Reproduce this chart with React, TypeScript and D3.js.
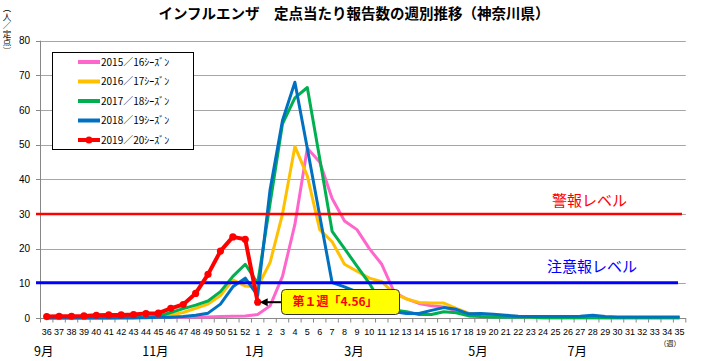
import { useMemo } from 'react'
import * as d3 from 'd3'

const WIDTH = 702
const HEIGHT = 361

// week labels: 36..52 then 1..35
const WEEKS = [
  '36', '37', '38', '39', '40', '41', '42', '43', '44', '45', '46', '47', '48', '49', '50', '51', '52',
  '1', '2', '3', '4', '5', '6', '7', '8', '9', '10', '11', '12', '13', '14', '15', '16', '17', '18',
  '19', '20', '21', '22', '23', '24', '25', '26', '27', '28', '29', '30', '31', '32', '33', '34', '35'
]

// 2015/16
const S1516 = [
  0.1, 0.1, 0.1, 0.1, 0.1, 0.1, 0.1, 0.1, 0.2, 0.2, 0.2, 0.2, 0.3, 0.3, 0.4, 0.5, 0.6,
  1.0, 3.5, 12, 27, 49, 45, 34.5, 28, 25.5, 20, 15.5, 7.5, 5.5, 4.2, 3.5, 3.2, 2.0, 1.1,
  0.6, 0.4, 0.3, 0.2, 0.2, 0.1, 0.1, 0.1, 0.1, 0.1, 0.1, 0.1, 0.1, 0.1, 0.1, 0.1, 0.1
]
// 2016/17
const S1617 = [
  0, 0, 0, 0, 0, 0, 0.1, 0.1, 0.2, 0.4, 0.9, 1.6, 2.8, 4, 6.5, 11, 9.2,
  9.0, 16, 30, 49.5, 41, 25.5, 22, 15.5, 13.5, 11.5, 10.5, 7, 5.5, 4.5, 4.3, 4.3, 2.8, 1.4,
  1.0, 0.8, 0.6, 0.4, 0.3, 0.2, 0.2, 0.2, 0.2, 0.2, 0.1, 0.1, 0.1, 0.1, 0.1, 0.1, 0.1
]
// 2017/18
const S1718 = [
  0, 0, 0, 0, 0, 0, 0.1, 0.1, 0.2, 0.5, 1.6, 2.7, 3.7, 4.9, 7.6, 12, 15.5,
  10, 33, 56, 63.5, 66.5, 46, 25, 20, 15, 10, 4, 2.3, 1.8, 1.0, 1.0, 1.8, 1.5, 0.6,
  0.4, 0.3, 0.2, 0.2, 0.2, 0.1, 0.1, 0.1, 0.1, 0.1, 0.1, 0.1, 0.1, 0.1, 0.1, 0.1, 0.1
]
// 2018/19
const S1819 = [
  0.1, 0.1, 0.1, 0.1, 0.1, 0.1, 0.1, 0.1, 0.1, 0.2, 0.2, 0.4, 0.8, 1.4, 4, 9, 11.5,
  6.5, 37, 57, 68, 49, 29.5, 10.2, 9, 7.5, 5, 3, 1.8, 1.3, 1.3, 2.2, 3, 2.5, 1.2,
  1.3, 1.1, 0.8, 0.5, 0.4, 0.4, 0.4, 0.4, 0.5, 0.8, 0.4, 0.3, 0.3, 0.3, 0.3, 0.3, 0.3
]
// 2019/20 (week 36 .. week 1)
const S1920 = [
  0.4, 0.5, 0.5, 0.6, 0.8, 0.9, 0.9, 1.0, 1.3, 1.4, 2.8, 3.9, 7.1, 12.6, 19.3, 23.4, 22.7, 4.56
]

const SEASON_NAMES = ['2015／16ｼｰｽﾞﾝ', '2016／17ｼｰｽﾞﾝ', '2017／18ｼｰｽﾞﾝ', '2018／19ｼｰｽﾞﾝ', '2019／20ｼｰｽﾞﾝ']
const SEASON_COLORS = ['#ff66cc', '#ffc000', '#00b050', '#0070c0', '#ff0000']
const SEASON_VALUES = [S1516, S1617, S1718, S1819, S1920]

const Y_TICKS = [0, 10, 20, 30, 40, 50, 60, 70, 80]
const MONTHS = ['9月', '11月', '1月', '3月', '5月', '7月']
const MONTH_WEEKS = ['36', '45', '1', '9', '19', '27']

const WARNING_LEVEL = 30
const ATTENTION_LEVEL = 10

const JP = '"Noto Sans CJK JP", sans-serif'
const NUM = '"Liberation Sans", Arial, sans-serif'

export default function App() {
  const x = useMemo(() => d3.scaleBand<string>().domain(WEEKS).range([40.5, 685.8]).padding(0), [])
  const y = useMemo(() => d3.scaleLinear().domain([0, 80]).range([318, 40.7]), [])
  const cx = (w: string) => (x(w) ?? 0) + x.bandwidth() / 2

  const line = d3.line<number>()
    .x((_, i) => cx(WEEKS[i]))
    .y(d => y(d))

  const last = S1920.length - 1
  const pointX = cx(WEEKS[last])
  const pointY = y(S1920[last])

  return (
    <svg width={WIDTH} height={HEIGHT} style={{ position: 'absolute', left: 0, top: 0, background: '#fff' }}>
      <rect width={WIDTH} height={HEIGHT} fill="#fff" />

      {/* title */}
      <text x={354} y={19} textAnchor="middle" fontFamily={JP} fontWeight="bold" fontSize={14.5}>
        インフルエンザ　定点当たり報告数の週別推移（神奈川県）
      </text>
      <text x={7} y={4} fontFamily={JP} fontSize={8.5} style={{ writingMode: 'vertical-rl' }}>（人／定点）</text>

      {/* gridlines */}
      {Y_TICKS.filter(t => t > 0).map(t => (
        <line key={t} x1={40.5} x2={685.8} y1={Math.round(y(t)) + 0.5} y2={Math.round(y(t)) + 0.5} stroke="#a6a6a6" />
      ))}

      {/* axes */}
      <line x1={40.5} x2={40.5} y1={y(80)} y2={318} stroke="#888" />
      <line x1={40.5} x2={685.8} y1={318.5} y2={318.5} stroke="#888" />
      {Y_TICKS.map(t => (
        <g key={t}>
          <line x1={36} x2={40.5} y1={Math.round(y(t)) + 0.5} y2={Math.round(y(t)) + 0.5} stroke="#888" />
          <text x={30} y={y(t) + 3.5} textAnchor="end" fontFamily={NUM} fontSize={10}>{t}</text>
        </g>
      ))}
      {WEEKS.map(w => (
        <line key={w} x1={x(w)} x2={x(w)} y1={318} y2={322.5} stroke="#888" />
      ))}
      <line x1={685.8} x2={685.8} y1={318} y2={322.5} stroke="#888" />
      {WEEKS.map(w => (
        <text key={w} x={cx(w)} y={335} textAnchor="middle" fontFamily={NUM} fontSize={9}>{w}</text>
      ))}
      {MONTHS.map((m, i) => (
        <text key={m} x={cx(MONTH_WEEKS[i]) - 3} y={356} textAnchor="middle" fontFamily={JP} fontSize={12.5}>{m}</text>
      ))}
      <text x={670} y={346} textAnchor="middle" fontFamily={JP} fontSize={7}>（週）</text>

      {/* past seasons */}
      {SEASON_VALUES.slice(0, 4).map((vals, i) => (
        <path key={i} d={line(vals) ?? ''} fill="none" stroke={SEASON_COLORS[i]} strokeWidth={3} strokeLinejoin="round" />
      ))}

      {/* levels */}
      <line x1={36} x2={682} y1={y(WARNING_LEVEL)} y2={y(WARNING_LEVEL)} stroke="#ff0000" strokeWidth={2.5} />
      <line x1={36} x2={678} y1={y(ATTENTION_LEVEL) - 0.5} y2={y(ATTENTION_LEVEL) - 0.5} stroke="#0000ff" strokeWidth={3} />
      <text x={552} y={206} fontFamily={JP} fontSize={15} fill="#ff0000">警報レベル</text>
      <text x={547} y={272} fontFamily={JP} fontSize={15} fill="#0000ff">注意報レベル</text>

      {/* current season */}
      <path d={line(S1920) ?? ''} fill="none" stroke="#ff0000" strokeWidth={4} strokeLinejoin="round" />
      {S1920.map((v, i) => (
        <circle key={i} cx={cx(WEEKS[i])} cy={y(v)} r={3.6} fill="#ff0000" />
      ))}

      {/* annotation */}
      <line x1={282} x2={pointX + 8} y1={pointY} y2={pointY} stroke="#000" strokeWidth={2} />
      <path d={`M${pointX + 2},${pointY} L${pointX + 10},${pointY - 4} L${pointX + 10},${pointY + 4} Z`} fill="#000" />
      <rect x={281.5} y={289.5} width={118} height={25} rx={4} fill="#ffff00" stroke="#333" />
      <text x={335} y={306} textAnchor="middle" fontFamily={JP} fontWeight="bold" fontSize={12} fill="#ff0000">
        第１週「4.56」
      </text>

      {/* legend */}
      <rect x={52.5} y={52.5} width={141} height={97} fill="#fff" stroke="#000" />
      {SEASON_NAMES.map((n, i) => {
        const ly = 62 + i * 19.5
        return (
          <g key={n}>
            <line x1={78} x2={100} y1={ly} y2={ly} stroke={SEASON_COLORS[i]} strokeWidth={4} />
            {i === 4 && <circle cx={89} cy={ly} r={3.5} fill={SEASON_COLORS[i]} />}
            <text x={101} y={ly + 3.5} fontFamily={JP} fontSize={10}>{n}</text>
          </g>
        )
      })}
    </svg>
  )
}
